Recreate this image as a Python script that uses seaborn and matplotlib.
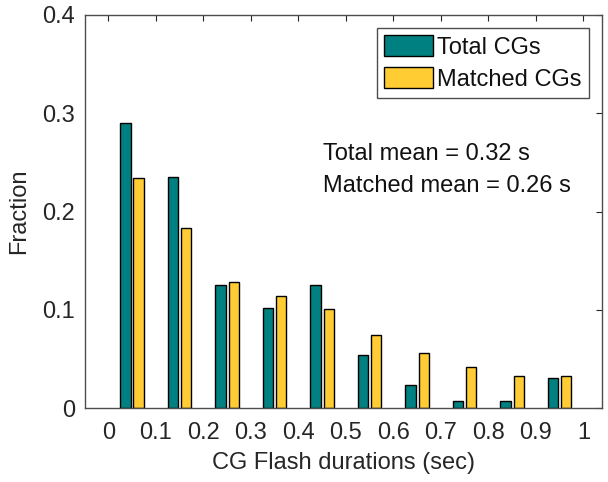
import matplotlib
matplotlib.use("Agg")
import matplotlib.pyplot as plt
import seaborn as sns
import pandas as pd
import numpy as np

bin_centers = [0.05, 0.15, 0.25, 0.35, 0.45, 0.55, 0.65, 0.75, 0.85, 0.95]
total_frac = [0.290, 0.235, 0.125, 0.102, 0.125, 0.054, 0.023, 0.0075, 0.0075, 0.031]
matched_frac = [0.234, 0.183, 0.128, 0.114, 0.101, 0.074, 0.056, 0.042, 0.033, 0.033]
series_names = ["Total CGs", "Matched CGs"]
colors = ["#008080", "#FFCC33"]
xticks = [0, 0.1, 0.2, 0.3, 0.4, 0.5, 0.6, 0.7, 0.8, 0.9, 1]
xtick_labels = ["0", "0.1", "0.2", "0.3", "0.4", "0.5", "0.6", "0.7", "0.8", "0.9", "1"]
yticks = [0, 0.1, 0.2, 0.3, 0.4]
ytick_labels = ["0", "0.1", "0.2", "0.3", "0.4"]

df = pd.DataFrame({
    "x": bin_centers * 2,
    "frac": total_frac + matched_frac,
    "series": [series_names[0]] * len(bin_centers) + [series_names[1]] * len(bin_centers),
})

sns.set_theme(style="white")
plt.rcParams["font.family"] = ["Liberation Sans", "DejaVu Sans"]
txt = "#262626"
fs = 17

fig = plt.figure(figsize=(6.08, 4.82), dpi=100)
ax = fig.add_axes([0.1398, 0.1535, 0.8502, 0.8154])

sns.barplot(data=df, x="x", y="frac", hue="series", hue_order=series_names,
            palette=colors, native_scale=True, width=0.56, gap=0.22,
            edgecolor="black", linewidth=1.0, saturation=1, errorbar=None, ax=ax)

ax.set_xlim(-0.049, 1.039)
ax.set_ylim(0, 0.4)
ax.set_xticks(xticks)
ax.set_xticklabels(xtick_labels)
ax.set_yticks(yticks)
ax.set_yticklabels(ytick_labels)
ax.tick_params(axis="both", direction="in", top=True, right=True, length=4,
               width=0.8, color=txt, labelsize=fs, labelcolor=txt)
ax.tick_params(axis="x", pad=10)
ax.tick_params(axis="y", pad=7)
for s in ax.spines.values():
    s.set_color("#4d4d4d")
    s.set_linewidth(1.0)
    s.set_visible(True)

ax.set_xlabel("CG Flash durations (sec)", fontsize=fs, color=txt, labelpad=6)
ax.set_ylabel("Fraction", fontsize=fs, color=txt, labelpad=9)

ax.text(0.451, 0.252, "Total mean = 0.32 s", fontsize=fs, color="#111111", va="baseline")
ax.text(0.451, 0.220, "Matched mean = 0.26 s", fontsize=fs, color="#111111", va="baseline")

handles, labels = ax.get_legend_handles_labels()
leg = ax.legend(handles, labels, loc="upper right", fontsize=fs, frameon=True,
                fancybox=False, edgecolor="#4d4d4d", framealpha=1,
                handlelength=2.05, handleheight=1.0, handletextpad=0.2,
                borderpad=0.3, labelspacing=0.35, borderaxespad=0.55)
leg.get_frame().set_linewidth(1.0)
for t in leg.get_texts():
    t.set_color("#111111")

fig.savefig("out.png", dpi=100)
